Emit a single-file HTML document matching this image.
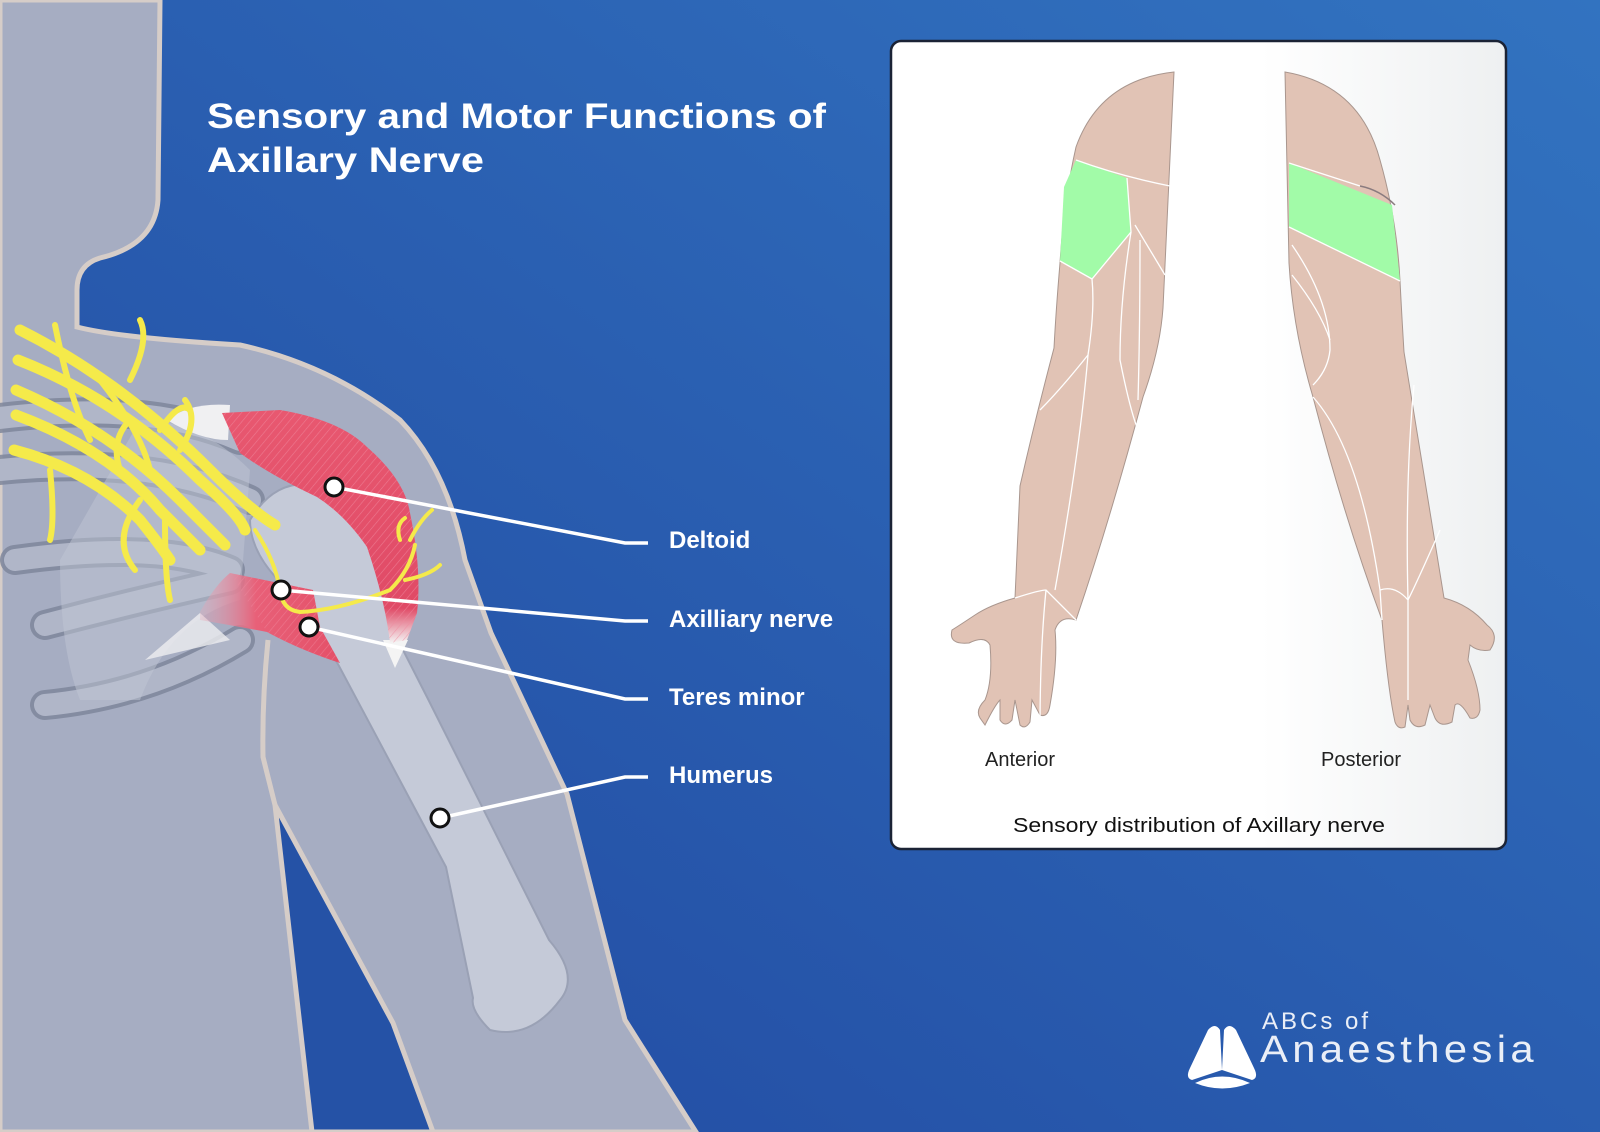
<!DOCTYPE html>
<html><head><meta charset="utf-8"><style>
html,body{margin:0;padding:0;width:1600px;height:1132px;overflow:hidden}
svg{display:block}
text{font-family:"Liberation Sans",sans-serif}
</style></head><body>
<svg width="1600" height="1132" viewBox="0 0 1600 1132" xmlns="http://www.w3.org/2000/svg">
<defs>
<linearGradient id="bg" x1="0" y1="1" x2="1" y2="0">
<stop offset="0" stop-color="#2148a0"/><stop offset="1" stop-color="#3273c0"/>
</linearGradient>
<linearGradient id="panel" x1="0" y1="0" x2="1" y2="0">
<stop offset="0.6" stop-color="#ffffff"/><stop offset="1" stop-color="#eef0f1"/>
</linearGradient>
<linearGradient id="delt" x1="0" y1="0" x2="0" y2="1">
<stop offset="0" stop-color="#e85870"/><stop offset="0.85" stop-color="#e04a66"/><stop offset="1" stop-color="#f4f4f4"/>
</linearGradient>
<linearGradient id="teres" x1="1" y1="0" x2="0" y2="0">
<stop offset="0" stop-color="#e45068"/><stop offset="0.6" stop-color="#e86078"/><stop offset="1" stop-color="#e8a8b8" stop-opacity="0.3"/>
</linearGradient>
<pattern id="stripes" width="6" height="6" patternUnits="userSpaceOnUse" patternTransform="rotate(40)">
<rect width="6" height="6" fill="none"/><line x1="0" y1="0" x2="0" y2="6" stroke="#f08aa0" stroke-width="1.2"/>
</pattern>
</defs>
<rect width="1600" height="1132" fill="url(#bg)"/>

<!-- body -->
<path d="M0,0 L160,0 L158,200 Q155,245 100,258 Q77,265 77,290 L77,327 Q120,338 240,345 Q330,365 400,420 Q448,470 465,560 L491,633 L567,794 L625,1020 L696,1132 L0,1132 Z" fill="#a6adc2" stroke="#d6cdc8" stroke-width="5"/>
<path d="M275,805 L312,1132 L433,1132 L393,1023 Z" fill="#2552a6" stroke="#d6cdc8" stroke-width="5" stroke-linejoin="round"/>
<path d="M268,640 Q262,700 263,757 L275,805" fill="none" stroke="#d6cdc8" stroke-width="5"/>

<!-- ribs / scapula -->
<g fill="none" stroke-linecap="round">
<g stroke="#7f879c" stroke-width="30" opacity="0.85">
<path d="M0,418 Q150,400 240,440"/>
<path d="M0,470 Q150,455 250,500"/>
<path d="M15,560 Q160,540 230,570"/>
<path d="M45,625 Q140,600 230,580"/>
<path d="M45,705 Q150,695 240,640"/>
</g>
<g stroke="#b0b6c8" stroke-width="22">
<path d="M0,418 Q150,400 240,440"/>
<path d="M0,470 Q150,455 250,500"/>
<path d="M15,560 Q160,540 230,570"/>
<path d="M45,625 Q140,600 230,580"/>
<path d="M45,705 Q150,695 240,640"/>
</g>
</g>
<path d="M60,560 Q60,650 80,700 L140,700 Q170,620 240,600 L250,470 Q200,420 140,420 Z" fill="#bfc5d4" opacity="0.5"/>
<!-- humerus -->
<path d="M300,600 Q250,560 250,520 Q280,470 330,490 Q380,540 402,648 L428,699 L549,940 Q580,976 560,1000 Q530,1040 490,1030 Q470,1010 473,998 L446,867 L339,666 Z" fill="#c5cad8" stroke="#9aa1b5" stroke-width="2"/>
<path d="M167,420 Q190,402 230,405 L228,440 Q200,440 167,420Z" fill="#f0f0f2"/>
<path d="M145,660 L200,613 L230,640 Z" fill="#eeeef0" opacity="0.8"/>
<path d="M383,640 L408,640 L395,668 Z" fill="#f4f4f4"/>
<!-- deltoid -->
<path d="M222,413 L280,410 Q340,420 367,447 Q405,480 410,513 Q422,570 417,613 L407,640 L390,643 Q385,600 367,547 Q345,515 317,497 Q270,475 240,453 Z" fill="url(#delt)"/>
<path d="M222,413 L280,410 Q340,420 367,447 Q405,480 410,513 Q422,570 417,613 L407,640 L390,643 Q385,600 367,547 Q345,515 317,497 Q270,475 240,453 Z" fill="url(#stripes)" opacity="0.7"/>
<!-- teres minor -->
<path d="M200,612 Q215,585 230,573 L313,590 L320,627 L340,663 Q300,650 267,632 Q230,625 200,620 Z" fill="url(#teres)"/>
<path d="M230,573 L313,590 L320,627 L340,663 Q300,650 267,632 Z" fill="url(#stripes)" opacity="0.6"/>

<!-- nerves -->
<g fill="none" stroke="#f5ea4a" stroke-linecap="round">
<g stroke-width="11">
<path d="M20,330 Q120,380 210,470 Q250,510 275,525"/>
<path d="M18,360 Q120,400 200,480 Q240,515 245,530"/>
<path d="M16,390 Q110,430 180,500 Q210,530 225,545"/>
<path d="M16,415 Q110,450 160,510 Q190,540 200,550"/>
<path d="M14,450 Q90,470 140,520 Q160,545 170,560"/>
</g>
<g stroke-width="6">
<path d="M55,325 Q70,400 90,440"/>
<path d="M50,470 Q55,520 50,540"/>
<path d="M130,380 Q150,340 140,320"/>
<path d="M160,430 Q180,400 190,410"/>
<path d="M140,500 Q110,540 135,570"/>
<path d="M165,520 Q165,580 170,600"/>
<path d="M120,470 Q110,440 130,420"/>
<path d="M180,450 Q200,420 185,400"/>
<path d="M100,380 Q140,430 150,470"/>
</g>
<g stroke-width="4">
<path d="M255,530 Q275,560 280,590 Q282,610 300,612 Q340,610 390,590 Q410,570 415,545"/>
<path d="M405,580 Q430,575 440,565"/>
<path d="M410,540 Q420,520 432,510"/>
<path d="M400,540 Q395,525 405,518"/>
</g>
</g>

<!-- callout lines -->
<g stroke="#ffffff" stroke-width="3.5" fill="none">
<polyline points="334,487 625,543 648,543"/>
<polyline points="281,590 625,621 648,621"/>
<polyline points="309,627 625,699 648,699"/>
<polyline points="440,818 625,777 648,777"/>
</g>
<g fill="#ffffff" stroke="#111" stroke-width="3">
<circle cx="334" cy="487" r="9"/>
<circle cx="281" cy="590" r="9"/>
<circle cx="309" cy="627" r="9"/>
<circle cx="440" cy="818" r="9"/>
</g>
<g fill="#ffffff" font-weight="bold" font-size="24">
<text x="669" y="548">Deltoid</text>
<text x="669" y="627">Axilliary nerve</text>
<text x="669" y="705">Teres minor</text>
<text x="669" y="783">Humerus</text>
</g>

<g fill="#ffffff" font-weight="bold" font-size="35">
<text x="207" y="128" textLength="619" lengthAdjust="spacingAndGlyphs">Sensory and Motor Functions of</text>
<text x="207" y="172" textLength="277" lengthAdjust="spacingAndGlyphs">Axillary Nerve</text>
</g>

<!-- panel -->
<rect x="891" y="41" width="615" height="808" rx="10" fill="url(#panel)" stroke="#1b2335" stroke-width="2.5"/>
<path d="M1174,72 Q1100,80 1076,147 Q1064,200 1060,263 Q1056,310 1054,348 Q1035,420 1020,486 L1015,598 Q990,605 975,615 Q960,625 952,630 Q948,645 969,643 Q985,635 990,645 Q993,680 985,700 Q975,710 980,718 L985,725 Q995,705 1000,700 L1000,720 Q1005,728 1012,720 L1015,700 L1020,725 Q1025,730 1030,722 L1032,700 L1040,715 Q1048,718 1050,705 Q1058,660 1055,630 Q1060,615 1076,620 Q1110,520 1143,397 Q1160,350 1163,308 Z" fill="#e1c3b5" stroke="#a9968e" stroke-width="1"/>
<path d="M1076,160 L1127,178 L1131,232 L1092,279 L1060,261 L1064,187 Z" fill="#a2fba8"/>
<g fill="none" stroke="#fff" stroke-width="1.3">
<path d="M1076,160 Q1120,176 1170,186"/><path d="M1127,178 L1131,232 L1092,279 L1060,261"/>
<path d="M1092,279 Q1095,310 1088,355 Q1060,390 1040,410"/>
<path d="M1088,355 Q1080,450 1055,590"/>
<path d="M1131,232 Q1120,300 1120,360 Q1130,410 1138,430"/>
<path d="M1135,225 Q1150,250 1165,275"/>
<path d="M1140,240 Q1140,330 1138,400"/>
<path d="M1015,598 Q1040,590 1046,590 L1076,620"/><path d="M1046,590 Q1040,650 1040,730"/>
</g>
<path d="M1285,72 Q1360,85 1380,160 Q1397,220 1400,281 Q1402,320 1404,352 Q1425,480 1444,598 Q1470,605 1487,625 Q1500,635 1490,650 Q1478,652 1470,645 L1468,660 Q1480,690 1480,710 Q1478,720 1470,718 Q1460,700 1455,705 L1452,722 Q1440,728 1435,718 L1430,705 L1425,725 Q1415,730 1410,720 L1408,705 L1405,727 Q1398,730 1395,722 Q1388,690 1382,620 Q1345,520 1313,397 Q1293,330 1289,263 Z" fill="#e1c3b5" stroke="#a9968e" stroke-width="1"/>
<path d="M1289,163 L1392,205 L1400,281 L1289,227 Z" fill="#a2fba8"/>
<g fill="none" stroke="#fff" stroke-width="1.3">
<path d="M1289,163 L1360,186"/><path d="M1289,227 L1400,281"/>
<path d="M1292,245 Q1330,300 1330,350 Q1328,370 1313,385"/>
<path d="M1292,275 Q1320,310 1330,340"/>
<path d="M1313,397 Q1360,450 1380,590 L1382,620"/>
<path d="M1414,385 Q1405,480 1408,600 Q1418,580 1440,530"/>
<path d="M1380,590 Q1395,585 1408,600 L1408,700"/>
</g>
<path d="M1360,186 Q1380,190 1395,205" fill="none" stroke="#8a7b7f" stroke-width="1.5"/>
<g font-size="20" fill="#222">
<text x="985" y="766">Anterior</text>
<text x="1321" y="766">Posterior</text>
</g>
<text x="1013" y="832" font-size="20" fill="#111" textLength="372" lengthAdjust="spacingAndGlyphs">Sensory distribution of Axillary nerve</text>

<g fill="#ffffff">
<path d="M1208,1030 Q1215,1022 1220,1030 L1222,1070 L1192,1080 Q1185,1078 1190,1068 Z"/>
<path d="M1236,1030 Q1229,1022 1224,1030 L1222,1070 L1252,1080 Q1259,1078 1254,1068 Z"/>
<path d="M1195,1083 Q1222,1070 1250,1083 Q1222,1094 1195,1083 Z"/>
</g>
<text x="1262" y="1029" font-size="24" fill="#ffffff" letter-spacing="3" opacity="0.9">ABCs of</text>
<text x="1260" y="1062" font-size="38" fill="#ffffff" letter-spacing="4" textLength="278" lengthAdjust="spacingAndGlyphs" opacity="0.9">Anaesthesia</text>
</svg>
</body></html>
